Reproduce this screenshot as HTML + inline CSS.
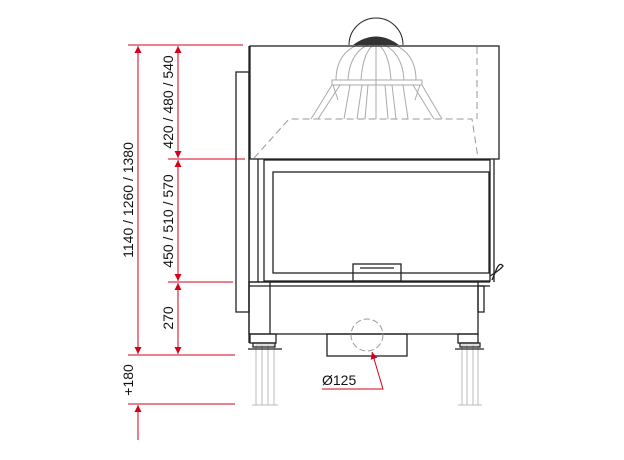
<!DOCTYPE html>
<html><head><style>body{margin:0;background:#fff}svg{display:block}</style></head><body>
<svg width="624" height="460" viewBox="0 0 624 460" xmlns="http://www.w3.org/2000/svg" font-family="Liberation Sans, sans-serif">
<defs>
<marker id="a" viewBox="0 0 10 10" refX="10" refY="5" markerWidth="7" markerHeight="11" orient="auto-start-reverse" markerUnits="userSpaceOnUse"><path d="M0,0L10,5L0,10z" fill="#d4001a"/></marker>
</defs>
<g stroke="#bbb" fill="none" stroke-width="1">
<rect x="256" y="345" width="18" height="60"/><line x1="262" y1="345" x2="262" y2="405"/><line x1="268" y1="345" x2="268" y2="405"/>
<rect x="462" y="345" width="16" height="60"/><line x1="467" y1="345" x2="467" y2="405"/><line x1="473" y1="345" x2="473" y2="405"/>
<line x1="252" y1="405" x2="278" y2="405"/><line x1="458" y1="405" x2="482" y2="405"/>
</g>
<g stroke="#aaa" fill="none" stroke-width="1">
<path d="M336,80 Q336,45 376,40 Q416,45 416,80"/>
<path d="M348,80 Q350,48 376,42 Q402,48 404,80"/>
<path d="M361,80 Q363,50 376,43 Q389,50 391,80"/>
<line x1="376" y1="43" x2="376" y2="119"/>
<rect x="332" y="80" width="90" height="5"/>
<path d="M332,85 L311,119 M340,85 L318,119 M350,85 L344,119 M362,85 L357,119 M368,85 L365,119 M385,85 L388,119 M392,85 L396,119 M403,85 L408,119 M413,85 L434,119 M422,85 L442,119"/>
<path d="M333,85 L338,100 M420,85 L415,100"/>
</g>
<g stroke="#999" fill="none" stroke-dasharray="7,4">
<path d="M254,158 L289,119 L472,119 L478,158"/>
<line x1="477" y1="47" x2="477" y2="119"/>
</g>
<path d="M349,45 A27,27 0 0 1 403,45" fill="none" stroke="#222" stroke-width="1"/>
<path d="M353,45 Q376,28 399,45 Z" fill="#333"/>
<g stroke="#222" fill="none" stroke-width="1.3">
<rect x="250" y="46" width="249" height="113"/>
<rect x="236" y="72" width="13" height="240"/>
<line x1="249" y1="46" x2="249" y2="343"/>
<line x1="258" y1="159" x2="258" y2="282"/>
<rect x="264" y="160" width="226" height="121"/>
<rect x="273" y="172" width="216" height="101"/>
<rect x="353" y="264" width="48" height="17"/>
<line x1="360" y1="268" x2="394" y2="268"/>
<line x1="249" y1="282" x2="490" y2="282"/>
<line x1="249" y1="286" x2="490" y2="286"/>
<rect x="249" y="282" width="229" height="52"/>
<line x1="270" y1="282" x2="270" y2="334"/>
<rect x="478" y="286" width="6" height="26"/>
<line x1="494" y1="159" x2="494" y2="282"/>
<path d="M490,276 Q500,270 503,266 Q500,262 497,268 L492,280"/>
<rect x="327" y="334" width="80" height="22"/>
<rect x="250" y="334" width="26" height="9"/>
<rect x="458" y="334" width="20" height="9"/>
<rect x="253" y="343" width="22" height="4"/><rect x="460" y="343" width="20" height="4"/>
<line x1="248" y1="349" x2="282" y2="349"/><line x1="455" y1="349" x2="484" y2="349"/>
</g>
<circle cx="367" cy="335" r="16" fill="none" stroke="#999" stroke-dasharray="6,3"/>
<g stroke="#d4001a" stroke-width="1" fill="none">
<line x1="128" y1="45" x2="243" y2="45"/>
<line x1="168" y1="159" x2="245" y2="159"/>
<line x1="168" y1="282" x2="233" y2="282"/>
<line x1="128" y1="355" x2="235" y2="355"/>
<line x1="128" y1="404" x2="235" y2="404"/>
<line x1="138" y1="46" x2="138" y2="354" marker-start="url(#a)" marker-end="url(#a)"/>
<line x1="138" y1="405" x2="138" y2="440" marker-start="url(#a)"/>
<line x1="178" y1="46" x2="178" y2="158" marker-start="url(#a)" marker-end="url(#a)"/>
<line x1="178" y1="160" x2="178" y2="281" marker-start="url(#a)" marker-end="url(#a)"/>
<line x1="178" y1="283" x2="178" y2="354" marker-start="url(#a)" marker-end="url(#a)"/>
<path d="M322,389 L383,389 L372,352" marker-end="url(#a)"/>
</g>
<g font-size="14" fill="#111">
<text transform="translate(133,200) rotate(-90)" text-anchor="middle">1140 / 1260 / 1380</text>
<text transform="translate(173,102) rotate(-90)" text-anchor="middle">420 / 480 / 540</text>
<text transform="translate(173,221) rotate(-90)" text-anchor="middle">450 / 510 / 570</text>
<text transform="translate(173,318) rotate(-90)" text-anchor="middle">270</text>
<text transform="translate(133,380) rotate(-90)" text-anchor="middle">+180</text>
<text x="322" y="385">Ø125</text>
</g>
</svg>
</body></html>
